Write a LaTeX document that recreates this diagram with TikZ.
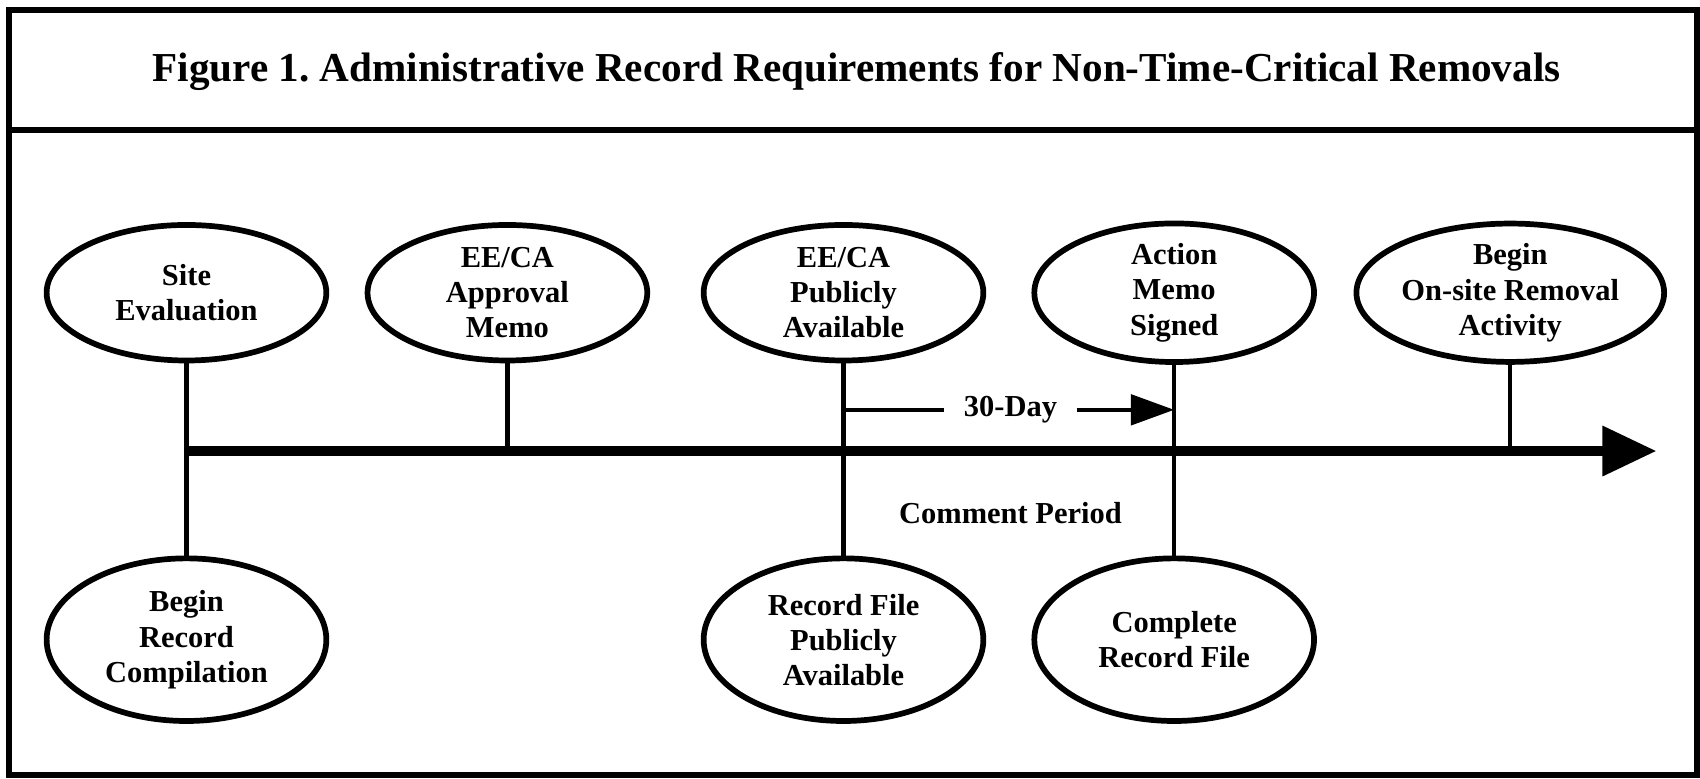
\documentclass[tikz,border=0pt]{standalone}
\usepackage{fontspec}
\setmainfont{Liberation Serif}
\usetikzlibrary{arrows.meta,positioning,shapes.geometric,calc}

\begin{document}
\begin{tikzpicture}[
  evnode/.style={draw,ellipse,line width=1.5pt,inner sep=0pt,align=center,
    font=\fontsize{8}{9.2}\selectfont\bfseries,
    minimum width=2.58cm,minimum height=1.25cm},
  lownode/.style={evnode,minimum height=1.50cm},
  stem/.style={line width=1.1pt},
  tline/.style={line width=2.8pt,-{Triangle[length=0.5cm,width=0.44cm]}}
]
  \useasboundingbox (0,0) rectangle (15.68,7.18);
  % frame and heading
  \draw[line width=1.6pt] (0.08,0.03) rectangle (15.65,7.09);
  \draw[line width=1.6pt] (0.08,5.98) -- (15.65,5.98);
  \node[font=\fontsize{10.8}{13}\selectfont\bfseries] (title) at (7.90,6.52)
    {Figure 1.\ Administrative Record Requirements for Non-Time-Critical Removals};
  % milestones above the line
  \node[evnode] (site) at (1.72,4.48) {Site\\Evaluation};
  \node[evnode] (appr) at (4.68,4.48) {EE/CA\\Approval\\Memo};
  \node[evnode] (pub) at (7.78,4.48) {EE/CA\\Publicly\\Available};
  \node[evnode] (act) at (10.83,4.48) {Action\\Memo\\Signed};
  \node[evnode] (onsite) at (13.93,4.48) {Begin\\On-site Removal\\Activity};
  % milestones below the line
  \node[lownode] (comp) at (1.72,1.28) {Begin\\Record\\Compilation};
  \node[lownode] (rfile) at (7.78,1.28) {Record File\\Publicly\\Available};
  \node[lownode] (crec) at (10.83,1.28) {Complete\\Record File};
  % time line
  \coordinate (t0) at (1.72,3.02);
  \coordinate (t1) at (15.28,3.02);
  \draw[tline] (t0) -- (t1);
  \draw[stem] (site.south) -- (comp.north);
  \draw[stem] (appr.south) -- (appr.south |- t0);
  \draw[stem] (pub.south) -- (rfile.north);
  \draw[stem] (act.south) -- (crec.north);
  \draw[stem] (onsite.south) -- (onsite.south |- t0);
  % comment period
  \node[font=\fontsize{8}{9.2}\selectfont\bfseries,inner sep=5pt] (day) at (9.32,3.40) {30-Day};
  \draw[stem] (day.west) -- (day.west -| pub.south);
  \draw[stem,-{Triangle[length=0.4cm,width=0.28cm]}] (day.east) -- (day.east -| act.south);
  \node[font=\fontsize{8}{9.2}\selectfont\bfseries] (cper) at (9.32,2.45) {Comment Period};
\end{tikzpicture}
\end{document}
